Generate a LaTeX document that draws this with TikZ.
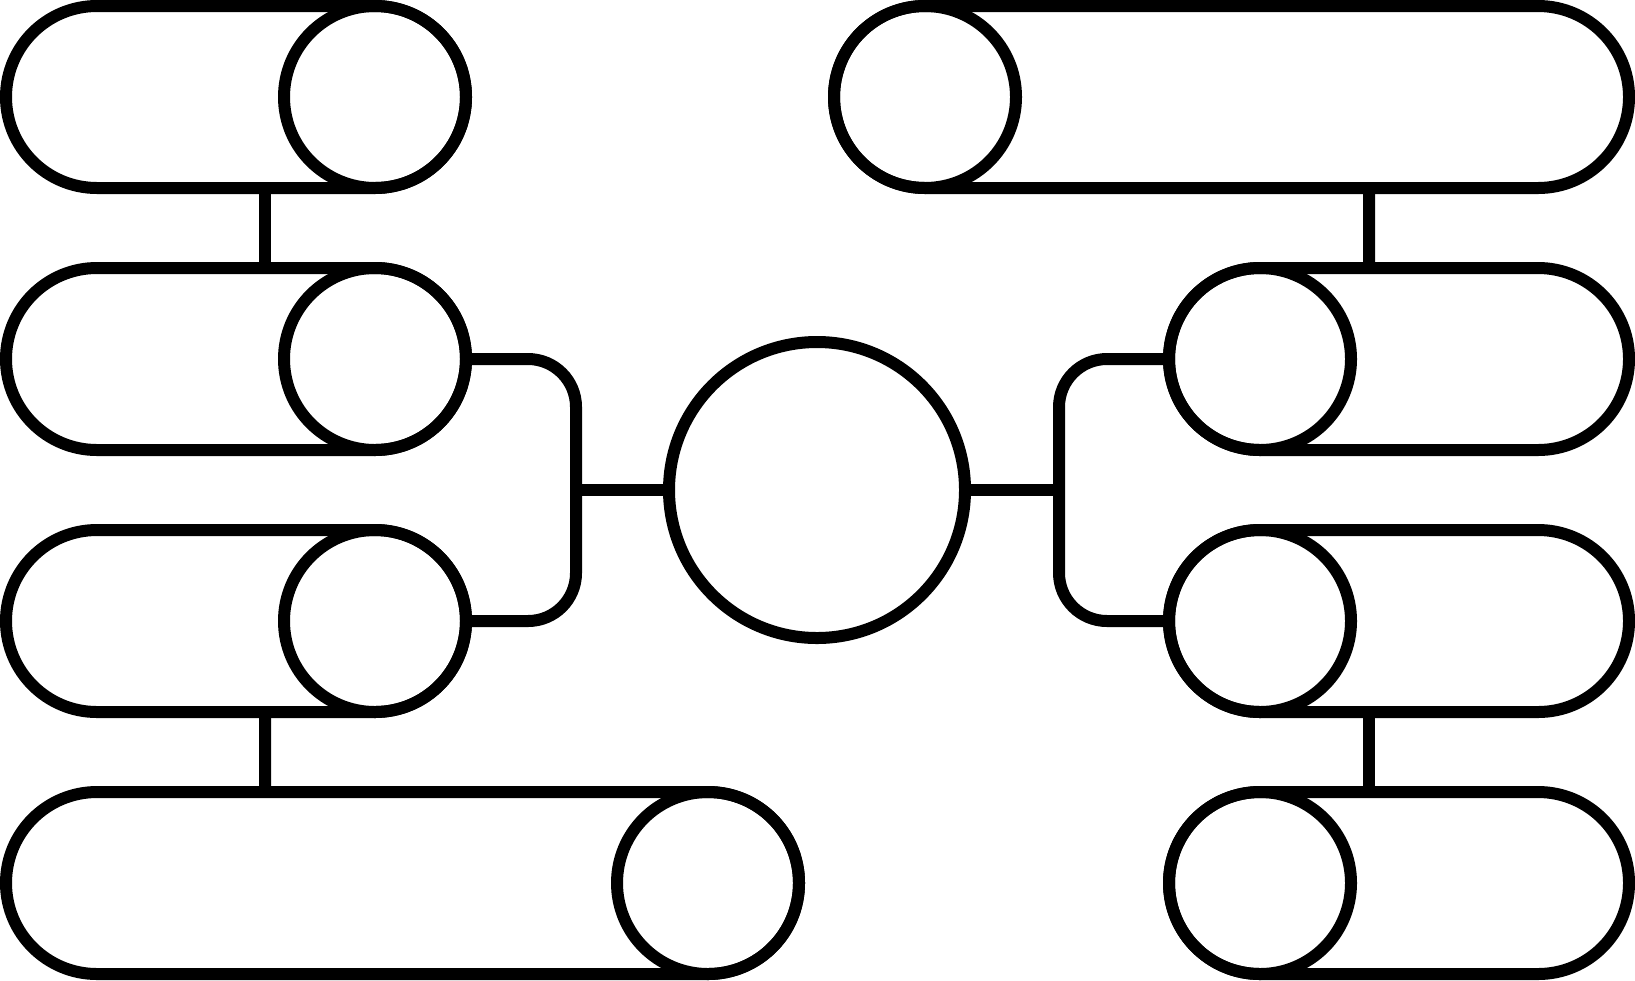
\documentclass[tikz,border=0pt]{standalone}
\usepackage{tikz}
\usetikzlibrary{positioning}

\begin{document}
\begin{tikzpicture}[line width=1.2mm, node distance=2.62cm, on grid,
        dot/.style={draw, circle, minimum size=1.82cm, inner sep=0pt},
        pill/.style={draw, rectangle, rounded corners=9.1mm, minimum height=1.82cm, inner sep=0pt}]
        \useasboundingbox (0,0) rectangle (16.35,9.80);

        % hub and the round ends
        \node[dot, minimum size=2.96cm] (hub) at (8.17,4.90) {};
        \node[dot] (l2) [above left=1.31 and 4.42 of hub] {};
        \node[dot] (l1) [above=of l2] {};
        \node[dot] (l3) [below left=1.31 and 4.42 of hub] {};
        \node[dot] (l4) [below right=2.62 and 3.33 of l3] {};
        \node[dot] (r2) [above right=1.31 and 4.43 of hub] {};
        \node[dot] (r1) [above left=2.62 and 3.35 of r2] {};
        \node[dot] (r3) [below right=1.31 and 4.43 of hub] {};
        \node[dot] (r4) [below=of r3] {};

        % bars
        \node[pill, minimum width=4.6cm] (l1p) [left=1.39 of l1] {};
        \node[pill, minimum width=4.6cm] (l2p) [left=1.39 of l2] {};
        \node[pill, minimum width=4.6cm] (l3p) [left=1.39 of l3] {};
        \node[pill, minimum width=7.93cm] (l4p) [left=3.055 of l4] {};
        \node[pill, minimum width=7.95cm] (r1p) [right=3.065 of r1] {};
        \node[pill, minimum width=4.6cm] (r2p) [right=1.39 of r2] {};
        \node[pill, minimum width=4.6cm] (r3p) [right=1.39 of r3] {};
        \node[pill, minimum width=4.6cm] (r4p) [right=1.39 of r4] {};

        \coordinate[left=2.41 of hub] (lj);
        \coordinate[right=2.42 of hub] (rj);

        \draw ([xshift=2.9mm]l1p.south) -- ([xshift=2.9mm]l2p.north);
        \draw ([xshift=2.9mm]l3p.south) -- ([xshift=-13.75mm]l4p.north);
        \draw ([xshift=13.75mm]r1p.south) -- ([xshift=-3mm]r2p.north);
        \draw ([xshift=-3mm]r3p.south) -- ([xshift=-3mm]r4p.north);

        \draw[rounded corners=4.8mm] (l2.east) -| (lj) |- (l3.east);
        \draw[rounded corners=4.8mm] (r2.west) -| (rj) |- (r3.west);
        \draw (lj) -- (hub);
        \draw (rj) -- (hub);
    \end{tikzpicture}
\end{document}
